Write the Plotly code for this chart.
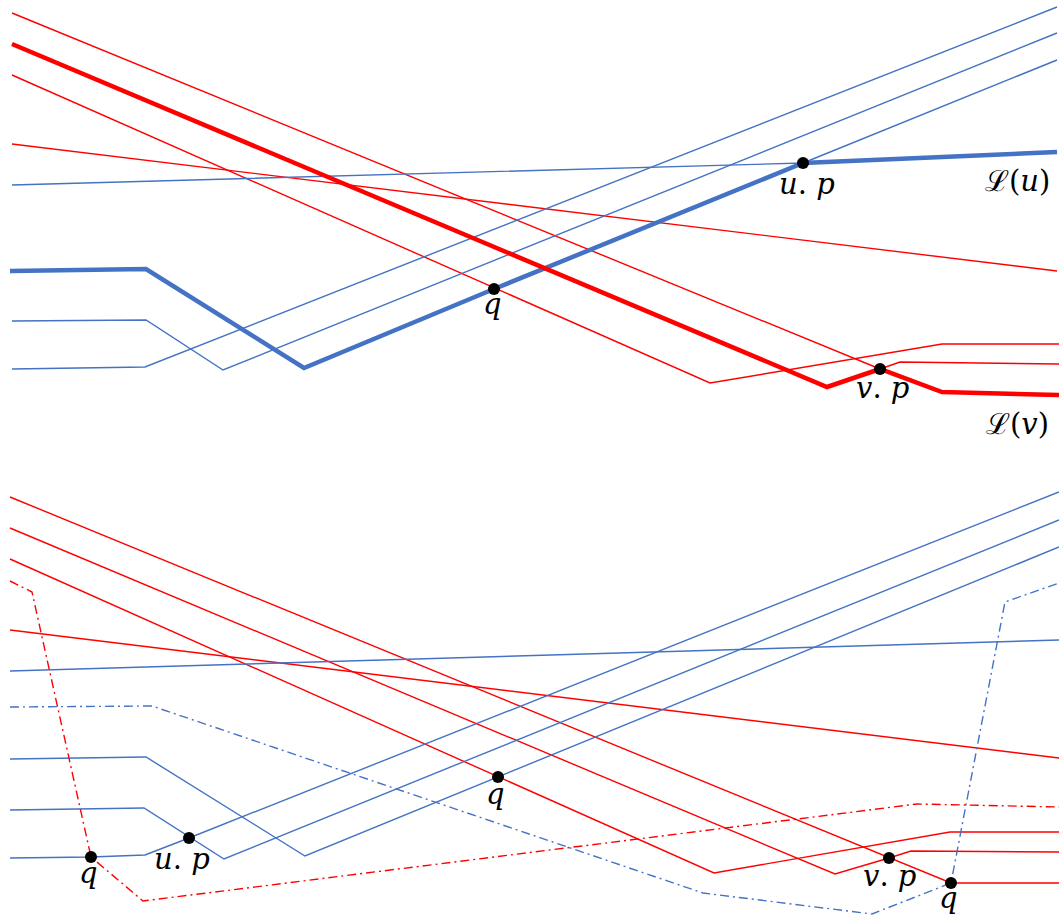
import plotly.graph_objects as go

W, H = 1059, 917
RED = "#FF0000"
BLUE = "#4472C4"

# ---------- top panel: thin lines ----------
top_red_a_x = [12, 880, 942, 1059]
top_red_a_y = [13, 369, 392, 395]
top_red_b_x = [12, 827, 880, 900, 1059]
top_red_b_y = [44, 387, 369, 362, 364]
top_red_c_x = [12, 710, 942, 1059]
top_red_c_y = [75, 383, 344, 344]
top_red_d_x = [12, 1057]
top_red_d_y = [144, 271]

top_blue_e_x = [12, 803, 1057]
top_blue_e_y = [185, 163, 152]
top_blue_f_x = [10, 146, 304, 494, 803, 1057]
top_blue_f_y = [271, 269, 368, 289, 163, 60]
top_blue_g_x = [12, 146, 223, 1057]
top_blue_g_y = [321, 320, 370, 33]
top_blue_h_x = [12, 145, 1057]
top_blue_h_y = [369, 367, 7]

# ---------- top panel: thick envelopes ----------
Lv_x = [12, 827, 880, 942, 1059]
Lv_y = [44, 387, 369, 392, 395]
Lu_x = [10, 146, 304, 494, 803, 1057]
Lu_y = [271, 269, 368, 289, 163, 152]

# ---------- bottom panel ----------
bot_red_1_x = [10, 889, 951, 1059]
bot_red_1_y = [497, 858, 883, 883]
bot_red_2_x = [10, 835, 889, 911, 1059]
bot_red_2_y = [528, 874, 858, 851, 852]
bot_red_3_x = [10, 498, 714, 950, 1059]
bot_red_3_y = [559, 777, 873, 832, 832]
bot_red_4_x = [10, 1059]
bot_red_4_y = [630, 758]
bot_red_dd_x = [10, 32, 91, 143, 917, 1059]
bot_red_dd_y = [581, 592, 857, 901, 804, 807]

bot_blue_1_x = [10, 1059]
bot_blue_1_y = [671, 640]
bot_blue_3_x = [10, 146, 305, 498, 1059]
bot_blue_3_y = [759, 757, 856, 777, 547]
bot_blue_4_x = [10, 144, 224, 1059]
bot_blue_4_y = [810, 808, 859, 520]
bot_blue_5_x = [10, 91, 145, 189, 1059]
bot_blue_5_y = [858, 857, 855, 838, 492]
bot_blue_dd_x = [10, 152, 703, 872, 951, 1005, 1059]
bot_blue_dd_y = [707, 706, 893, 914, 883, 602, 583]

# ---------- marked points ----------
pts_x = [494, 803, 880, 91, 189, 498, 889, 951]
pts_y = [289, 163, 369, 857, 838, 777, 858, 883]

# ---------- labels ----------
lab_text = ["<i>q</i>", "<i>u</i>. <i>p</i>", "ℒ(<i>u</i>)", "<i>v</i>. <i>p</i>", "ℒ(<i>v</i>)",
            "<i>q</i>", "<i>u</i>. <i>p</i>", "<i>q</i>", "<i>v</i>. <i>p</i>", "<i>q</i>"]
lab_x = [492, 807, 1017, 882, 1017, 88, 182, 495, 889, 948]
lab_y = [304, 184, 181, 388, 424, 873, 859, 794, 876, 898]

fig = go.Figure()

def line(x, y, color, width, dash="solid"):
    fig.add_trace(go.Scatter(x=x, y=y, mode="lines",
                             line=dict(color=color, width=width, dash=dash),
                             hoverinfo="skip"))

thin = 1.4
for xs, ys in [(top_red_a_x, top_red_a_y), (top_red_b_x, top_red_b_y),
               (top_red_c_x, top_red_c_y), (top_red_d_x, top_red_d_y)]:
    line(xs, ys, RED, thin)
for xs, ys in [(top_blue_e_x, top_blue_e_y), (top_blue_f_x, top_blue_f_y),
               (top_blue_g_x, top_blue_g_y), (top_blue_h_x, top_blue_h_y)]:
    line(xs, ys, BLUE, thin)
line(Lu_x, Lu_y, BLUE, 4.5)
line(Lv_x, Lv_y, RED, 4.5)

for xs, ys in [(bot_red_1_x, bot_red_1_y), (bot_red_2_x, bot_red_2_y),
               (bot_red_3_x, bot_red_3_y), (bot_red_4_x, bot_red_4_y)]:
    line(xs, ys, RED, thin)
for xs, ys in [(bot_blue_1_x, bot_blue_1_y), (bot_blue_3_x, bot_blue_3_y),
               (bot_blue_4_x, bot_blue_4_y), (bot_blue_5_x, bot_blue_5_y)]:
    line(xs, ys, BLUE, thin)
line(bot_red_dd_x, bot_red_dd_y, RED, thin, "9px,4px,2px,4px")
line(bot_blue_dd_x, bot_blue_dd_y, BLUE, thin, "9px,4px,2px,4px")

fig.add_trace(go.Scatter(x=pts_x, y=pts_y, mode="markers",
                         marker=dict(color="black", size=12), hoverinfo="skip"))

for t, x, y in zip(lab_text, lab_x, lab_y):
    fig.add_annotation(x=x, y=y, text=t, showarrow=False, xanchor="center", yanchor="middle",
                       font=dict(family="DejaVu Serif", size=29, color="black"))

fig.update_layout(width=W, height=H, margin=dict(l=0, r=0, t=0, b=0),
                  paper_bgcolor="white", plot_bgcolor="white", showlegend=False)
fig.update_xaxes(range=[0, W], visible=False, fixedrange=True)
fig.update_yaxes(range=[H, 0], visible=False, fixedrange=True)

fig.write_html("out.html", config={"displayModeBar": False},
               post_script="document.body.style.margin='0';document.body.style.overflow='hidden';")
